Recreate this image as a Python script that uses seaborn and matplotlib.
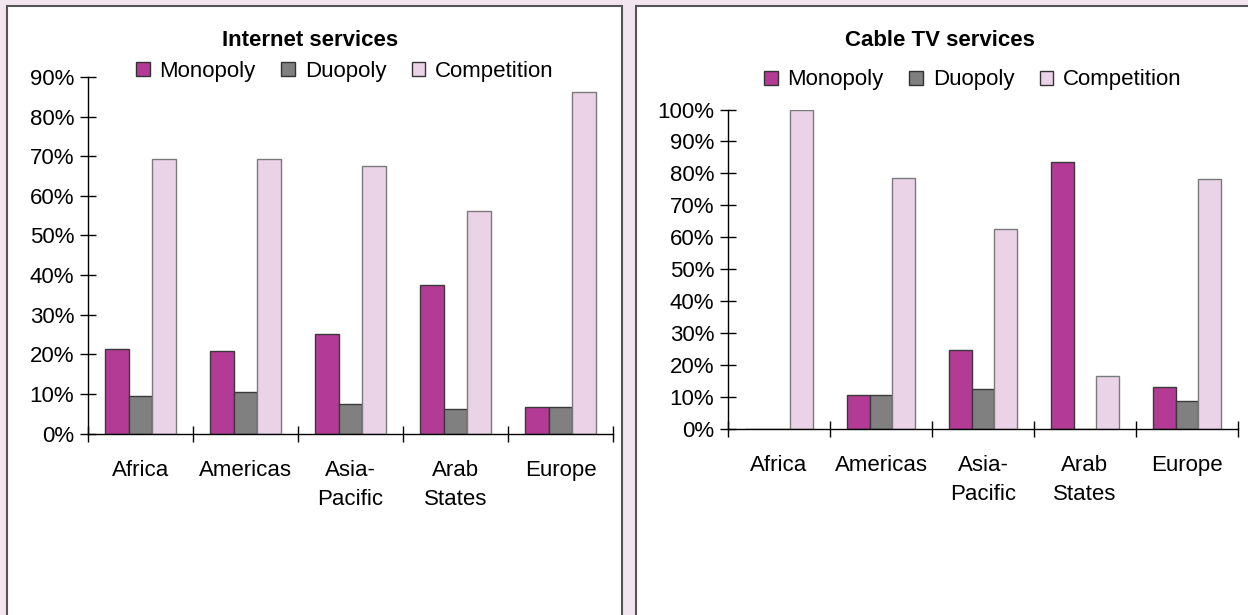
import matplotlib
matplotlib.use("Agg")
import matplotlib.pyplot as plt
from matplotlib.patches import Rectangle, Patch
from matplotlib.ticker import PercentFormatter
import seaborn as sns
import pandas as pd

# ---- data -------------------------------------------------------------
regions = ["Africa", "Americas", "Asia-Pacific", "Arab States", "Europe"]
region_labels = ["Africa", "Americas", "Asia-\nPacific", "Arab\nStates", "Europe"]
structures = ["Monopoly", "Duopoly", "Competition"]

internet_monopoly = [21.3, 20.8, 25.0, 37.4, 6.8]
internet_duopoly = [9.4, 10.4, 7.4, 6.3, 6.8]
internet_competition = [69.2, 69.2, 67.6, 56.2, 86.3]

cable_monopoly = [0.0, 10.7, 24.7, 83.5, 13.2]
cable_duopoly = [0.0, 10.7, 12.6, 0.0, 8.7]
cable_competition = [100.0, 78.5, 62.6, 16.5, 78.4]

palette = {"Monopoly": "#B33A95", "Duopoly": "#808080", "Competition": "#EAD3E7"}
edges = {"Monopoly": "#3a3a3a", "Duopoly": "#3a3a3a", "Competition": "#7a7a7a"}
page_bg = "#F3E5EF"


def long_frame(mono, duo, comp):
    rows = []
    for s, vals in zip(structures, (mono, duo, comp)):
        for r, v in zip(regions, vals):
            rows.append({"region": r, "structure": s, "share": v})
    return pd.DataFrame(rows)


sns.set_style("white")
plt.rcParams["font.family"] = ["Liberation Sans", "DejaVu Sans"]
plt.rcParams["font.size"] = 16
plt.rcParams["text.color"] = "black"
plt.rcParams["xtick.color"] = "black"
plt.rcParams["ytick.color"] = "black"
plt.rcParams["xtick.labelcolor"] = "black"
plt.rcParams["ytick.labelcolor"] = "black"

W, H = 1248, 615
fig = plt.figure(figsize=(W / 100, H / 100), dpi=100, facecolor=page_bg)

# white panels behind each chart
for x0, x1 in [(7, 622), (636, 1260)]:
    fig.patches.append(Rectangle((x0 / W, -0.02), (x1 - x0) / W, 1 - 6 / H + 0.02,
                                 transform=fig.transFigure, facecolor="white",
                                 edgecolor="#555555", linewidth=1.5, zorder=-10))


def draw_panel(ax, df, ymax, title, title_xy, legend_xy):
    sns.barplot(data=df, x="region", y="share", hue="structure",
                order=regions, hue_order=structures, palette=palette,
                saturation=1, width=0.67, linewidth=1.0, errorbar=None,
                legend=False, ax=ax)
    for cont, s in zip(ax.containers, structures):
        for p in cont.patches:
            p.set_edgecolor(edges[s])
    ax.set_facecolor("none")
    ax.set_xlim(-0.5, len(regions) - 0.5)
    ax.set_ylim(0, ymax)
    ax.set_yticks(range(0, ymax + 1, 10))
    ax.yaxis.set_major_formatter(PercentFormatter(xmax=100, decimals=0))
    # category boundaries carry the tick marks, centres carry the names
    ax.set_xticks([i + 0.5 for i in range(-1, len(regions))], minor=False)
    ax.set_xticklabels([""] * (len(regions) + 1))
    ax.set_xticks(range(len(regions)), minor=True)
    ax.set_xticklabels(region_labels, minor=True, linespacing=1.5)
    ax.tick_params(axis="x", which="minor", bottom=False, length=0, pad=19,
                   labelsize=16)
    ax.tick_params(axis="x", which="major", bottom=True, direction="inout",
                   length=12, width=1, color="black")
    ax.tick_params(axis="y", left=True, direction="inout", length=12, width=1,
                   color="black", pad=4, labelsize=16)
    ax.set_xlabel("")
    ax.set_ylabel("")
    for side in ("top", "right"):
        ax.spines[side].set_visible(False)
    for side in ("left", "bottom"):
        ax.spines[side].set_color("black")
        ax.spines[side].set_linewidth(1.0)
    fig.text(title_xy[0] / W, 1 - title_xy[1] / H, title, ha="center",
             va="center", fontsize=16, fontweight="bold")
    handles = [Patch(facecolor=palette[s], edgecolor="#333333", linewidth=1.0)
               for s in structures]
    fig.legend(handles, structures, loc="center",
               bbox_to_anchor=(legend_xy[0] / W, 1 - legend_xy[1] / H),
               ncol=3, frameon=False, fontsize=16, handlelength=0.6,
               handleheight=0.6, handletextpad=0.45, columnspacing=1.15)


ax1 = fig.add_axes([88 / W, 1 - 433.5 / H, (613 - 88) / W, (433.5 - 77) / H])
draw_panel(ax1, long_frame(internet_monopoly, internet_duopoly, internet_competition),
           90, "Internet services", (310, 40), (345, 71))

ax2 = fig.add_axes([728 / W, 1 - 429 / H, (1238 - 728) / W, (429 - 109.5) / H])
draw_panel(ax2, long_frame(cable_monopoly, cable_duopoly, cable_competition),
           100, "Cable TV services", (940, 40), (973, 80))

fig.savefig("out.png", dpi=100, facecolor=page_bg)
